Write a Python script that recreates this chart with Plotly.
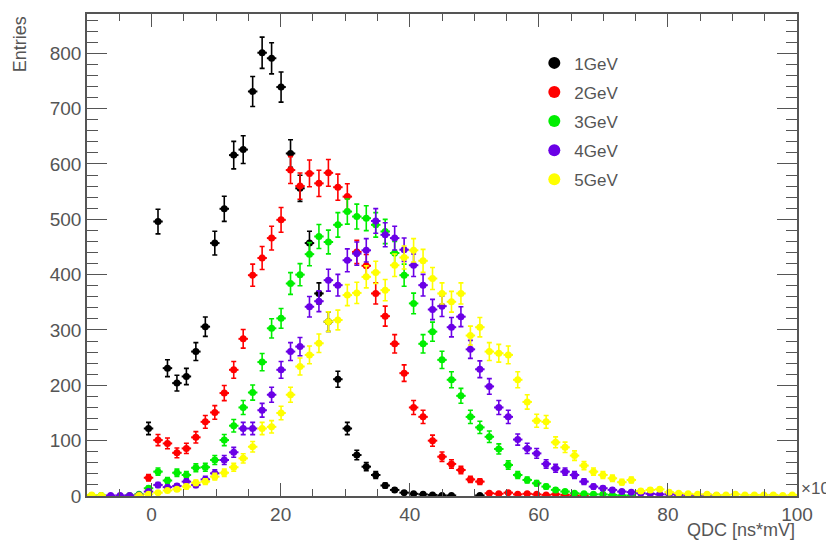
import numpy as np
import plotly.graph_objects as go

# Histogram binning: 75 bins between -10 and 100 (x in units of 10^3 ns*mV)
x_min, x_max, n_bins = -10.0, 100.0, 75
bin_width = (x_max - x_min) / n_bins
bin_centers = x_min + bin_width * (np.arange(n_bins) + 0.5)

N = None
entries_1gev = [N, N, N, N, N, N, 122, 496, 231, 204, 216, 261, 306, 457, 519, 616, 626, 731, 801, 791,
                739, 619, 556, 457, 366, 315, 211, 122, 74, 53, 38, 19, 11, 6, 4, 3, 2, 1, 1, N,
                N, 1, N, N, N, N, N, N, N, N, N, N, N, N, N, N, N, N, N, N,
                N, N, N, N, N, N, N, N, N, N, N, N, N, N, N]
entries_2gev = [N, N, N, N, N, N, 33, 101, 95, 78, 86, 106, 134, 151, 186, 228, 284, 399, 430, 466,
                499, 589, 560, 583, 565, 584, 558, 541, 441, 416, 366, 325, 275, 222, 160, 143, 100, 71, 58, 47,
                30, 26, 5, 4, 6, 3, 4, 3, 2, 3, 2, 1, 1, N, N, N, N, N, N, N,
                N, N, N, N, N, N, N, N, N, N, N, N, N, N, N]
entries_3gev = [1, 1, N, N, 1, 3, 14, 44, 28, 42, 38, 51, 52, 65, 101, 127, 160, 187, 242, 303,
                321, 384, 400, 437, 469, 459, 490, 514, 505, 502, 490, 478, 439, 399, 348, 275, 297, 246, 210, 181,
                143, 124, 107, 85, 56, 38, 29, 23, 17, 11, 8, 5, 4, 3, 3, 2, 1, 1, N, N,
                N, N, N, N, N, N, N, N, N, N, N, N, N, N, N]
entries_4gev = [N, N, 1, 1, 1, 2, 8, 20, 16, 18, 26, 20, 30, 41, 65, 79, 122, 122, 155, 183,
                228, 261, 270, 342, 352, 390, 381, 426, 438, 444, 497, 472, 466, 445, 417, 381, 337, 343, 305, 324,
                265, 229, 198, 160, 143, 102, 86, 77, 58, 50, 44, 38, 26, 17, 14, 11, 8, 7, 5, 4,
                3, 3, 2, 2, 1, 2, 1, N, N, N, N, N, N, N, N]
entries_5gev = [2, 1, N, N, N, 1, 3, 6, 10, 12, 17, 24, 26, 35, 42, 52, 68, 89, 122, 125,
                150, 183, 234, 255, 276, 315, 318, 363, 367, 396, 404, 372, 417, 431, 444, 425, 393, 366, 351, 366,
                290, 305, 261, 258, 255, 210, 170, 136, 134, 97, 88, 73, 55, 44, 38, 32, 25, 29, 9, 11,
                12, 7, 5, 4, 3, 3, 2, 2, 3, 2, 2, 2, 2, 1, 2]

series_names = ["1GeV", "2GeV", "3GeV", "4GeV", "5GeV"]
series_values = [entries_1gev, entries_2gev, entries_3gev, entries_4gev, entries_5gev]
series_colors = ["#000000", "#ff0000", "#00ee00", "#6a00e6", "#ffff00"]

x_ticks = [0, 20, 40, 60, 80, 100]
y_ticks = [0, 100, 200, 300, 400, 500, 600, 700, 800]

text_color = "#555555"
axis_color = "#555555"
font_family = "Liberation Sans, Arial, sans-serif"

fig = go.Figure()
for name, vals, color in zip(series_names, series_values, series_colors):
    xs, ys, errs = [], [], []
    for c, v in zip(bin_centers, vals):
        if v is None:
            continue
        xs.append(float(c))
        ys.append(v)
        errs.append(float(np.sqrt(v)))
    fig.add_trace(go.Scatter(
        x=xs, y=ys, mode="markers", name=name, legendgroup=name,
        marker=dict(symbol="circle", size=7, color=color, line=dict(width=0)),
        error_x=dict(type="constant", value=bin_width / 2, thickness=2, width=0, color=color),
        error_y=dict(type="data", array=errs, visible=True, thickness=1.6, width=2.5, color=color),
    ))

fig.update_layout(
    width=826, height=542,
    margin=dict(l=86.5, r=29, t=14, b=46),
    paper_bgcolor="white", plot_bgcolor="white",
    font=dict(family=font_family, size=18, color=text_color),
    showlegend=True,
    legend=dict(
        x=0.63, y=0.935, xanchor="left", yanchor="top",
        bgcolor="rgba(255,255,255,0)", borderwidth=0,
        font=dict(size=17, color=text_color),
        traceorder="grouped", tracegroupgap=4,
        itemsizing="constant",
    ),
    xaxis=dict(
        range=[x_min, x_max], tickvals=x_ticks, ticktext=[str(t) for t in x_ticks],
        ticks="inside", ticklen=13, tickwidth=1.3, tickcolor=axis_color,
        minor=dict(dtick=5, tick0=0, ticks="inside", ticklen=7, tickwidth=1.1, tickcolor=axis_color, showgrid=False),
        showline=True, linecolor=axis_color, linewidth=1.5, mirror="ticks",
        showgrid=False, zeroline=False,
        tickfont=dict(size=19, color=text_color),
    ),
    yaxis=dict(
        range=[0, 871], tickvals=y_ticks, ticktext=[str(t) for t in y_ticks],
        ticks="inside", ticklen=20, tickwidth=1.3, tickcolor=axis_color,
        minor=dict(dtick=20, tick0=0, ticks="inside", ticklen=11, tickwidth=1.1, tickcolor=axis_color, showgrid=False),
        showline=True, linecolor=axis_color, linewidth=1.5, mirror="ticks",
        showgrid=False, zeroline=False,
        tickfont=dict(size=19, color=text_color),
    ),
    annotations=[
        dict(text="QDC [ns*mV]", xref="paper", yref="paper", x=1.0, y=-0.046,
             xanchor="right", yanchor="top", showarrow=False,
             font=dict(size=18, color=text_color)),
        dict(text="Entries", xref="paper", yref="paper", x=-0.094, y=1.0,
             xanchor="center", yanchor="top", textangle=-90, showarrow=False,
             font=dict(size=18, color=text_color)),
        dict(text="×10³", xref="paper", yref="paper", x=1.003, y=0.015,
             xanchor="left", yanchor="middle", showarrow=False,
             font=dict(size=17, color=text_color)),
    ],
)

fig.write_html("out.html")
